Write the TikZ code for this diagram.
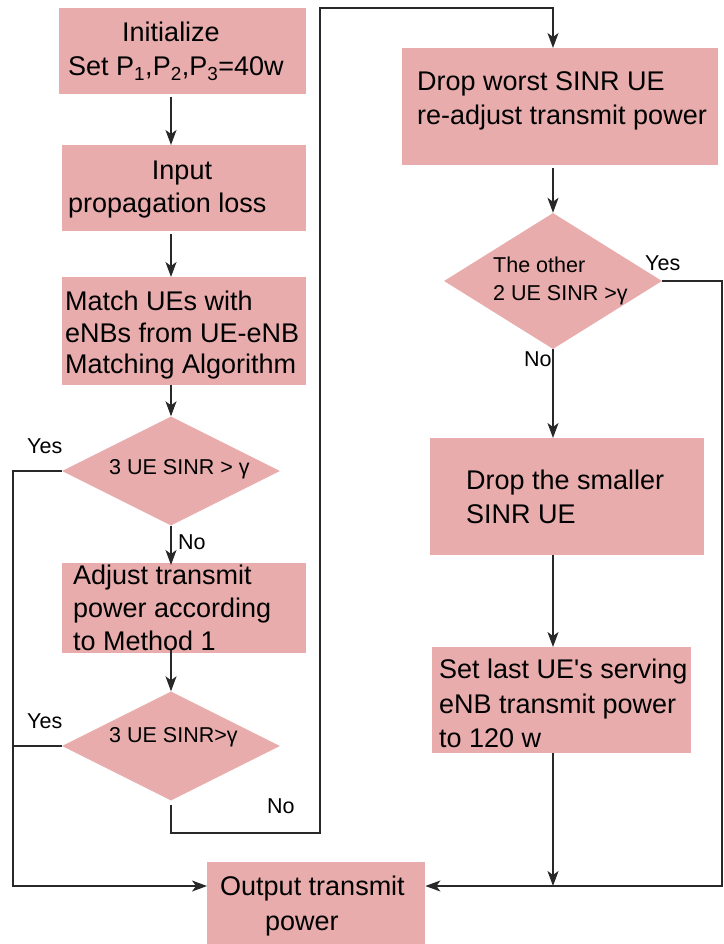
\documentclass[tikz,border=0pt]{standalone}
\usepackage{fontspec}
\setmainfont{Liberation Sans}
\usetikzlibrary{shapes.geometric,arrows.meta}

\definecolor{boxpink}{RGB}{232,172,172}
\definecolor{wire}{RGB}{40,40,40}

\tikzset{
  box/.style={fill=boxpink, inner sep=0pt, anchor=north west},
  choice/.style={diamond, fill=boxpink, inner sep=0pt, minimum width=218pt},
  txt/.style={anchor=base west, inner sep=0pt, font=\fontsize{27}{32}\selectfont},
  small/.style={txt, font=\fontsize{21.5}{25}\selectfont},
  tag/.style={anchor=base west, inner sep=0pt, font=\fontsize{21.5}{25}\selectfont},
  wire/.style={draw=wire, line width=1.3pt}
}

\begin{document}
\begin{tikzpicture}[x=1pt, y=-1pt, >={Stealth[length=15pt,width=11pt,inset=4pt]}]
  \useasboundingbox (0,0) rectangle (723,944);

  % left column
  \node[box, minimum width=247pt, minimum height=86pt] (init) at (59,8) {};
  \node[txt, anchor=base] (initA) at (171,42) {Initialize};
  \node[txt] (initB) at (68,76) {Set P\textsubscript{1},P\textsubscript{2},P\textsubscript{3}=40w};

  \node[box, minimum width=244pt, minimum height=86pt] (input) at (62,145) {};
  \node[txt, anchor=base] (inputA) at (182,179) {Input};
  \node[txt] (inputB) at (68,212) {propagation loss};

  \node[box, minimum width=244pt, minimum height=108pt] (match) at (62,277) {};
  \node[txt] (matchA) at (65,310) {Match UEs with};
  \node[txt] (matchB) at (65,342) {eNBs from UE-eNB};
  \node[txt] (matchC) at (65,373) {Matching Algorithm};

  \node[choice, minimum height=109pt] (d1) at (171,471) {};
  \node[small] (d1t) at (109,474) {3 UE SINR > γ};

  \node[box, minimum width=244pt, minimum height=90pt] (adjust) at (62,563) {};
  \node[txt] (adjA) at (73,584) {Adjust transmit};
  \node[txt] (adjB) at (73,617) {power according};
  \node[txt] (adjC) at (73,650) {to Method 1};

  \node[choice, minimum height=109pt] (d2) at (171,746) {};
  \node[small] (d2t) at (109,742) {3 UE SINR>γ};

  \node[box, minimum width=218pt, minimum height=82pt] (out) at (207,862) {};
  \node[txt] (outA) at (220,895) {Output transmit};
  \node[txt] (outB) at (265,930) {power};

  % right column
  \node[box, minimum width=316pt, minimum height=117pt] (dropw) at (402,48) {};
  \node[txt] (dropwA) at (417,91) {Drop worst SINR UE};
  \node[txt] (dropwB) at (417,125) {re-adjust transmit power};

  \node[choice, minimum height=136pt] (d3) at (553,281) {};
  \node[small] (d3A) at (493,272) {The other};
  \node[small] (d3B) at (493,300) {2 UE SINR >γ};

  \node[box, minimum width=274pt, minimum height=117pt] (drops) at (430,438) {};
  \node[txt] (dropsA) at (466,489) {Drop the smaller};
  \node[txt] (dropsB) at (466,523) {SINR UE};

  \node[box, minimum width=259pt, minimum height=106pt] (setl) at (432,647) {};
  \node[txt] (setlA) at (439,678) {Set last UE\textquotesingle s serving};
  \node[txt] (setlB) at (439,713) {eNB transmit power};
  \node[txt] (setlC) at (439,747) {to 120 w};

  % corner points of the long return lines
  \coordinate (lft) at (13,0);
  \coordinate (rgt) at (722,0);
  \coordinate (lp) at (320,833);
  \coordinate (tp) at (320,8);
  \coordinate (mrg) at (553,886);

  % straight flow
  \draw[wire, ->] ([yshift=-3pt]init.south -| d1) -- (input.north -| d1);
  \draw[wire, ->] ([yshift=-3pt]input.south -| d1) -- (match.north -| d1);
  \draw[wire, ->] (match.south -| d1) -- (d1.north);
  \draw[wire, ->] (d1.south) -- ([yshift=-2pt]adjust.north -| d1);
  \draw[wire, ->] ([yshift=3pt]adjust.south -| d2) -- (d2.north);
  \draw[wire, ->] ([yshift=-3pt]dropw.south -| d3) -- (d3.north);
  \draw[wire, ->] (d3.south) -- (drops.north -| d3);
  \draw[wire, ->] (drops.south -| d3) -- (setl.north -| d3);
  \draw[wire, ->] (setl.south -| mrg) -- (mrg);

  % branches
  \draw[wire, ->] (d1.west) -- (d1.west -| lft) |- (out.west |- mrg);
  \draw[wire] (d2.west) -- (d2.west -| lft);
  \draw[wire, ->] ([yshift=-4pt]d2.south) |- (lp) -- (tp) -| (dropw.north -| mrg);
  \draw[wire, ->] (d3.east) -- (d3.east -| rgt) |- (out.east |- mrg);

  \node[tag] (y1) at (27,453) {Yes};
  \node[tag] (n1) at (178,549) {No};
  \node[tag] (y2) at (27,728) {Yes};
  \node[tag] (n2) at (267,813) {No};
  \node[tag] (y3) at (645,270) {Yes};
  \node[tag] (n3) at (524,366) {No};
\end{tikzpicture}
\end{document}
